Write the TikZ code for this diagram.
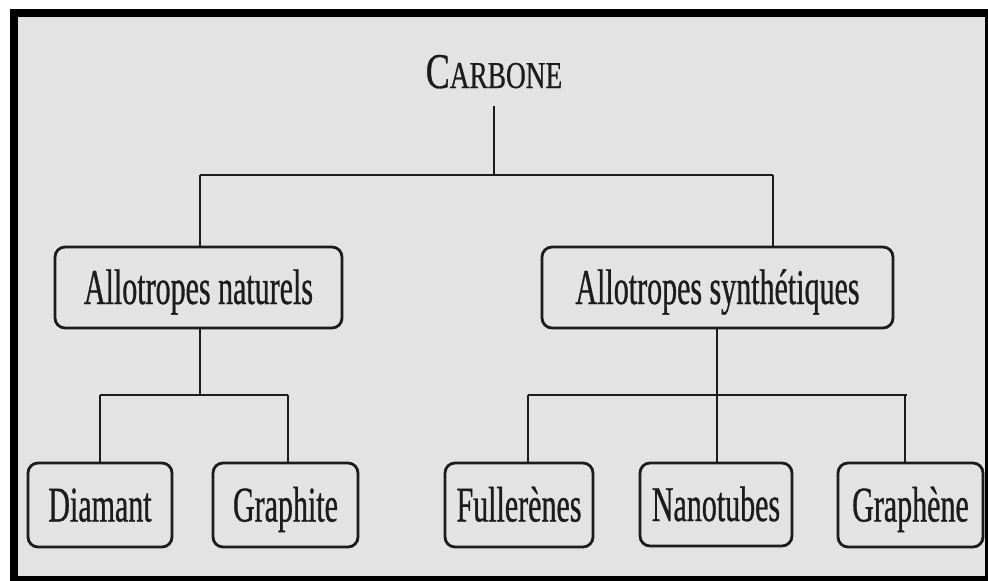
\documentclass[tikz,border=0pt]{standalone}
\usepackage{fontspec}
\setmainfont{Liberation Serif}[FakeStretch=0.6, FakeBold=0.6]
\newfontfamily\titlefont{Liberation Serif}[FakeStretch=0.72, FakeBold=0.6]
\definecolor{bg}{RGB}{227,227,227}
\definecolor{ink}{RGB}{28,28,28}
\begin{document}
\begin{tikzpicture}[x=1pt,y=-1pt,
  box/.style={draw=ink, line width=2.8pt, rounded corners=10pt, inner sep=0pt,
    text height=33pt, text depth=0pt, font=\fontsize{50}{60}\selectfont, text=ink},
  conn/.style={draw=ink, line width=2.2pt}]
\useasboundingbox (0,0) rectangle (988,581);
\fill[white] (0,0) rectangle (988,581);
\fill[black] (10,9) rectangle (988,581);
\fill[bg] (18,17) rectangle (985,576);

\node[anchor=base, inner xsep=0pt, inner ysep=18pt, text depth=0pt, text=ink] (carbone) at (494,88)
  {\titlefont\fontsize{50}{60}\selectfont C\fontsize{38}{45}\selectfont ARBONE};

\node[box, minimum width=287pt, minimum height=81pt] (nat) at (198.5,287.5) {Allotropes naturels};
\node[box, minimum width=351pt, minimum height=81pt] (syn) at (717.5,287.5) {Allotropes synthétiques};

\node[box, minimum width=144pt, minimum height=84pt] (dia) at (100,505) {Diamant};
\node[box, minimum width=145pt, minimum height=84pt] (gra) at (285.5,505) {Graphite};
\node[box, minimum width=148pt, minimum height=84pt] (ful) at (519,505) {Fullerènes};
\node[box, minimum width=152pt, minimum height=83pt] (nan) at (716,504.5) {Nanotubes};
\node[box, minimum width=145pt, minimum height=84pt] (grp) at (910.5,505) {Graphène};

\coordinate (j0) at (carbone.south |- 0,175);
\coordinate (bL) at (200,175);
\coordinate (bR) at (773,175);
\draw[conn] (carbone.south) -- (j0);
\draw[conn] (bL) -- (bR);
\draw[conn] (bL) -- (bL |- nat.north);
\draw[conn] (bR) -- (bR |- syn.north);

\coordinate (n0) at (200,395);
\coordinate (nL) at (100,395);
\coordinate (nR) at (288,395);
\draw[conn] (n0 |- nat.south) -- (n0);
\draw[conn] (nL) -- (nR);
\draw[conn] (nL) -- (nL |- dia.north);
\draw[conn] (nR) -- (nR |- gra.north);

\coordinate (s0) at (717,395);
\coordinate (sL) at (528,395);
\coordinate (sR) at (907,395);
\coordinate (sR2) at (905,395);
\draw[conn] (s0 |- syn.south) -- (s0);
\draw[conn] (sL) -- (sR);
\draw[conn] (sL) -- (sL |- ful.north);
\draw[conn] (s0) -- (s0 |- nan.north);
\draw[conn] (sR2) -- (sR2 |- grp.north);
\end{tikzpicture}
\end{document}
